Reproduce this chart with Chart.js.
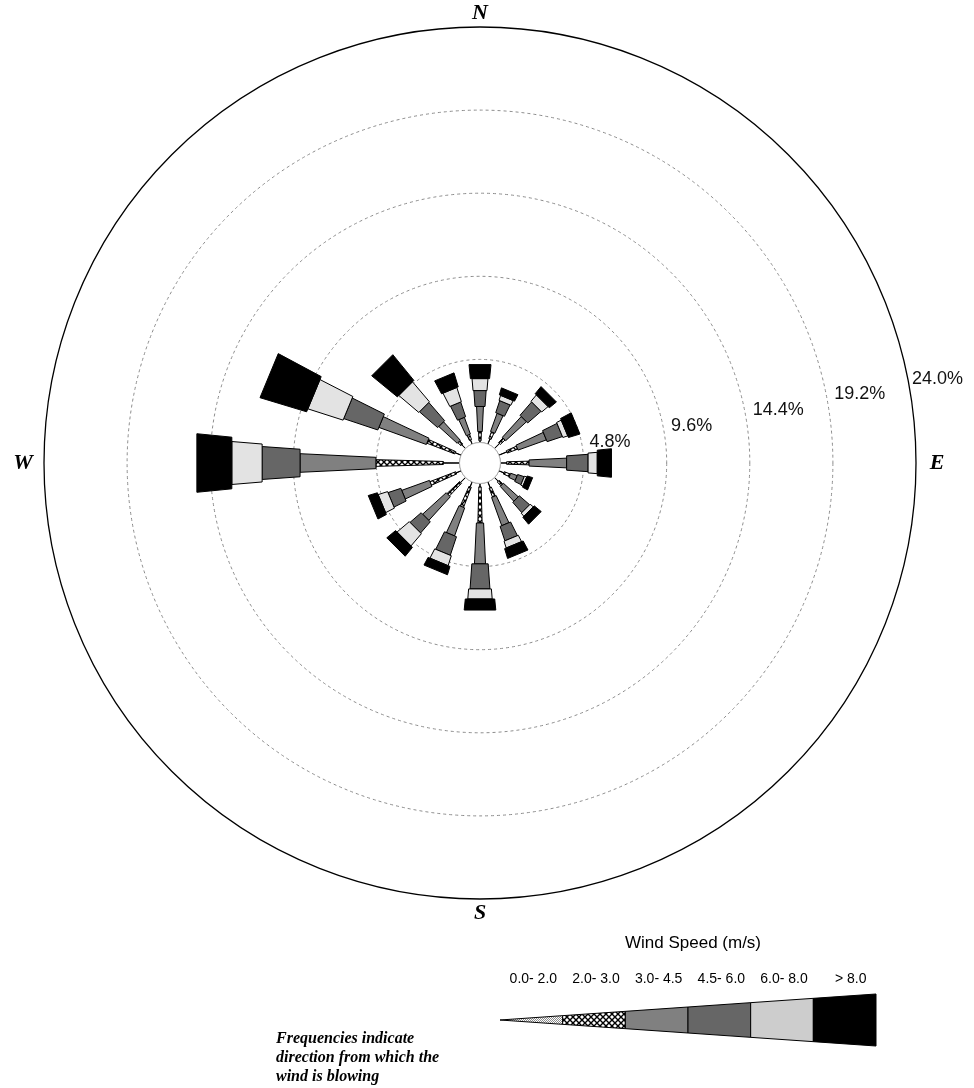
<!DOCTYPE html>
<html>
<head>
<meta charset="utf-8">
<title>Wind Rose</title>
<script src="https://cdn.jsdelivr.net/npm/chart.js@4.4.1/dist/chart.umd.min.js"></script>
<style>
  html, body { margin: 0; padding: 0; background: #fff; }
  #wrap { position: relative; width: 974px; height: 1088px; }
</style>
</head>
<body>
<div id="wrap"><canvas id="rose"></canvas></div>
<script>
// --- Data (frequency %, per direction, per speed class) ---
const directions = ['N', 'NNE', 'NE', 'ENE', 'E', 'ESE', 'SE', 'SSE', 'S', 'SSW', 'SW', 'WSW', 'W', 'WNW', 'NW', 'NNW'];
const cardinals = ['N', 'E', 'S', 'W'];
const speedClasses = ['0.0- 2.0', '2.0- 3.0', '3.0- 4.5', '4.5- 6.0', '6.0- 8.0', '> 8.0'];
const ringTicks = [4.8, 9.6, 14.4, 19.2, 24.0];

const speed0to2   = [0.10, 0.32, 0.40, 0.49, 0.35, 0.30, 0.30, 0.35, 0.19, 0.30, 0.40, 0.30, 0.93, 0.36, 0.30, 0.25];
const speed2to3   = [0.53, 0.41, 0.38, 0.64, 1.30, 0.38, 0.30, 0.56, 2.09, 1.25, 1.01, 1.60, 3.90, 1.73, 0.25, 0.32];
const speed3to45  = [1.45, 1.12, 1.62, 1.74, 2.17, 0.40, 1.16, 1.73, 2.36, 1.72, 1.84, 1.70, 4.38, 2.91, 1.44, 1.03];
const speed45to6  = [0.92, 0.73, 1.02, 0.93, 1.24, 0.40, 0.79, 0.88, 1.45, 1.13, 0.85, 0.78, 2.19, 2.07, 1.39, 0.90];
const speed6to8   = [0.69, 0.30, 0.48, 0.30, 0.53, 0.14, 0.23, 0.41, 0.58, 0.60, 0.92, 0.57, 1.75, 2.13, 1.51, 0.86];
const speedAbove8 = [0.81, 0.42, 0.53, 0.69, 0.82, 0.33, 0.52, 0.59, 0.64, 0.50, 0.66, 0.55, 2.02, 2.80, 1.91, 0.84];

// --- Styles ---
const petalAngles = [0.010, 0.055, 0.095, 0.142, 0.165, 0.198];   // full angular width per class (rad)
const petalPad = [0, 1, 1.5, 2, 2, 2.5];                          // extra px width per class
const serif = '"Liberation Serif", "DejaVu Serif", serif';
const sans = '"Liberation Sans", Arial, sans-serif';

const makeTile = (size, draw) => {
    const c = document.createElement('canvas');
    c.width = size; c.height = size;
    const g = c.getContext('2d');
    g.fillStyle = '#fff';
    g.fillRect(0, 0, size, size);
    draw(g);
    return c;
};
const dotTile = makeTile(2, g => { g.fillStyle = '#8a8a8a'; g.fillRect(0, 0, 1, 1); g.fillRect(1, 1, 1, 1); });
const crossTile = makeTile(6, g => {
    g.strokeStyle = '#000'; g.lineWidth = 1.4;
    g.beginPath();
    g.moveTo(0, 0); g.lineTo(6, 6);
    g.moveTo(6, 0); g.lineTo(0, 6);
    g.stroke();
});

const classFills = (ctx) => [
    ctx.createPattern(dotTile, 'repeat'),
    ctx.createPattern(crossTile, 'repeat'),
    '#808080',
    '#666666',
    '#e3e3e3',
    '#000000'
];

// --- Drawing helpers ---
const drawQuad = (ctx, pts, fill) => {
    ctx.beginPath();
    ctx.moveTo(pts[0][0], pts[0][1]);
    for (let i = 1; i < pts.length; i++) ctx.lineTo(pts[i][0], pts[i][1]);
    ctx.closePath();
    ctx.fillStyle = fill;
    ctx.fill();
    ctx.lineWidth = 1;
    ctx.strokeStyle = '#000';
    ctx.stroke();
};

const windRosePlugin = {
    id: 'windRose',
    afterDatasetsDraw(chart) {
        const ctx = chart.ctx;
        const scale = chart.scales.r;
        const xc = scale.xCenter, yc = scale.yCenter;
        const fills = classFills(ctx);
        ctx.save();

        // petals
        chart.data.labels.forEach((label, i) => {
            const a = scale.getIndexAngle(i) - Math.PI / 2;
            const ux = Math.cos(a), uy = Math.sin(a);
            const px = -uy, py = ux;
            let cum = 0;
            chart.data.datasets.forEach((ds, k) => {
                const r0 = scale.getDistanceFromCenterForValue(cum);
                cum += ds.data[i];
                const r1 = scale.getDistanceFromCenterForValue(cum);
                const h0 = (petalAngles[k] * r0 + petalPad[k]) / 2;
                const h1 = (petalAngles[k] * r1 + petalPad[k]) / 2;
                drawQuad(ctx, [
                    [xc + ux * r0 + px * h0, yc + uy * r0 + py * h0],
                    [xc + ux * r1 + px * h1, yc + uy * r1 + py * h1],
                    [xc + ux * r1 - px * h1, yc + uy * r1 - py * h1],
                    [xc + ux * r0 - px * h0, yc + uy * r0 - py * h0]
                ], fills[k]);
            });
        });

        // calm circle
        ctx.beginPath();
        ctx.arc(xc, yc, scale.getDistanceFromCenterForValue(0), 0, Math.PI * 2);
        ctx.fillStyle = '#fff';
        ctx.fill();
        ctx.lineWidth = 1;
        ctx.strokeStyle = '#b0b0b0';
        ctx.stroke();

        // ring labels
        ctx.fillStyle = '#111';
        ctx.font = '18px ' + sans;
        ctx.textAlign = 'left';
        ctx.textBaseline = 'middle';
        const ta = -11 * Math.PI / 180;
        ringTicks.forEach(v => {
            const r = scale.getDistanceFromCenterForValue(v) + (v === 24 ? 4 : 8);
            ctx.fillText(v.toFixed(1) + '%', xc + Math.cos(ta) * r, yc + Math.sin(ta) * r);
        });

        // compass labels
        ctx.font = 'italic bold 22px ' + serif;
        ctx.textAlign = 'center';
        ctx.fillStyle = '#000';
        chart.data.labels.forEach((label, i) => {
            if (!cardinals.includes(label)) return;
            const a = scale.getIndexAngle(i);
            const off = 14 + 7 * Math.abs(Math.sin(a));
            const p = scale.getPointPosition(i, scale.drawingArea + off);
            ctx.fillText(label, p.x, p.y);
        });

        // legend wedge
        const lx0 = 500, lx1 = 876, ly = 1020, lh = 26;
        const seg = (lx1 - lx0) / speedClasses.length;
        const half = x => lh * (x - lx0) / (lx1 - lx0);
        speedClasses.forEach((name, k) => {
            const xa = lx0 + seg * k, xb = xa + seg;
            drawQuad(ctx, [
                [xa, ly - half(xa)], [xb, ly - half(xb)],
                [xb, ly + half(xb)], [xa, ly + half(xa)]
            ], k === 4 ? '#cdcdcd' : fills[k]);
            ctx.fillStyle = '#000';
            ctx.font = '14px ' + sans;
            ctx.textBaseline = 'middle';
            ctx.fillText(name, xa + seg / 2 + (k === 5 ? 6 : 2), 979);
        });
        ctx.font = '17px ' + sans;
        ctx.fillText('Wind Speed (m/s)', 693, 943);

        // note
        ctx.font = 'italic bold 16px ' + serif;
        ctx.textAlign = 'left';
        ['Frequencies indicate', 'direction from which the', 'wind is blowing'].forEach((line, j) => {
            ctx.fillText(line, 276, 1039 + j * 19);
        });
        ctx.restore();
    }
};

// --- Chart ---
const chart = new Chart(document.getElementById('rose').getContext('2d'), {
    type: 'radar',
    data: {
        labels: directions,
        datasets: [speed0to2, speed2to3, speed3to45, speed45to6, speed6to8, speedAbove8].map((data, k) => ({
            label: speedClasses[k],
            data,
            showLine: false,
            borderWidth: 0,
            backgroundColor: 'rgba(0,0,0,0)',
            pointRadius: 0,
            pointHitRadius: 0
        }))
    },
    options: {
        responsive: true,
        maintainAspectRatio: false,
        animation: false,
        layout: { padding: { left: 44, right: 58, top: 27, bottom: 189 } },
        plugins: { legend: { display: false }, tooltip: { enabled: false } },
        scales: {
            r: {
                min: -1.184,
                max: 24,
                afterBuildTicks: s => { s.ticks = [0].concat(ringTicks).map(v => ({ value: v })); },
                ticks: { display: false },
                pointLabels: { display: false },
                angleLines: { display: false },
                grid: {
                    circular: true,
                    color: c => (c.tick && c.tick.value === 24) ? '#000' : '#8c8c8c',
                    lineWidth: c => (c.tick && c.tick.value === 24) ? 1.3 : 1
                },
                border: { dash: c => (c.tick && (c.tick.value === 24 || c.tick.value === 0)) ? [] : [3, 3] }
            }
        }
    },
    plugins: [windRosePlugin]
});
</script>
</body>
</html>
